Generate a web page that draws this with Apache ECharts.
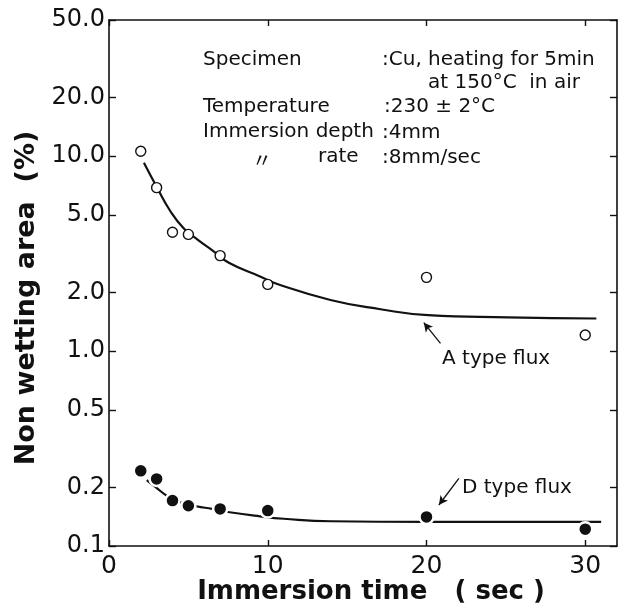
<!DOCTYPE html>
<html>
<head>
<meta charset="utf-8">
<script src="https://cdn.jsdelivr.net/npm/echarts@6/dist/echarts.min.js"></script>
<style>
    html, body { margin: 0; padding: 0; background: #fff; }
    #chart { width: 627px; height: 609px; }
</style>
</head>
<body>
<div id="chart"></div>
<script>
    // measured points
    const timeA = [2, 3, 4, 5, 7, 10, 20, 30];
    const areaA = [10.6, 6.9, 4.07, 3.97, 3.09, 2.2, 2.39, 1.21];
    const timeD = [2, 3, 4, 5, 7, 10, 20, 30];
    const areaD = [0.243, 0.221, 0.171, 0.161, 0.155, 0.152, 0.141, 0.122];

    // hand drawn curves
    const curveTimeA = [2.2, 3.0, 3.85, 4.7, 5.6, 6.55, 7.55, 9.55, 10.6, 13.95, 17.1, 20.1, 25.1, 30.7];
    const curveAreaA = [9.26, 6.97, 5.25, 4.27, 3.72, 3.27, 2.84, 2.41, 2.21, 1.83, 1.64, 1.53, 1.49, 1.47];
    const curveTimeD = [2.38, 2.9, 3.74, 4.5, 5.5, 6.5, 7.6, 9.5, 11, 14, 20, 31];
    const curveAreaD = [0.218, 0.2015, 0.179, 0.168, 0.160, 0.155, 0.149, 0.142, 0.138, 0.134, 0.133, 0.133];

    const xTicks = [0, 10, 20, 30];
    const yTicks = [0.1, 0.2, 0.5, 1, 2, 5, 10, 20, 50];

    const FONT = "'DejaVu Sans', sans-serif";

    function pairs(xs, ys) {
        return xs.map((x, i) => [x, ys[i]]);
    }

    function text(str, x, y, font, extra) {
        return Object.assign({
            type: "text",
            x: x,
            y: y,
            style: {
                text: str,
                font: font || "20px " + FONT,
                fill: "#111",
                textAlign: "left",
                textVerticalAlign: "middle"
            }
        }, extra || {});
    }

    const axisLine = { show: true, onZero: false, lineStyle: { color: "#111", width: 1.6 } };
    const tickStyle = { color: "#111", width: 1.4 };

    const chart = echarts.init(document.getElementById("chart"));

    const option = {
        animation: false,
        backgroundColor: "#fff",
        grid: {
            left: 109, right: 10, top: 20, bottom: 63,
            containLabel: false, outerBoundsMode: "none"
        },
        xAxis: [{
            type: "value", min: 0, max: 32, interval: 10,
            axisLine: axisLine,
            axisTick: { show: true, inside: true, length: 6, customValues: xTicks, lineStyle: tickStyle },
            axisLabel: { customValues: xTicks, margin: 8, color: "#111",
                fontFamily: FONT, fontSize: 25 },
            splitLine: { show: false }
        }, {
            type: "value", position: "top", min: 0, max: 32, interval: 10,
            axisLine: axisLine,
            axisTick: { show: true, inside: true, length: 6, customValues: xTicks, lineStyle: tickStyle },
            axisLabel: { show: false },
            splitLine: { show: false }
        }],
        yAxis: [{
            type: "log", logBase: 10, min: 0.1, max: 50,
            axisLine: axisLine,
            axisTick: { show: true, inside: true, length: 7, customValues: yTicks, lineStyle: tickStyle },
            axisLabel: { customValues: yTicks, margin: 4, color: "#111",
                fontFamily: FONT, fontSize: 24,
                formatter: (v) => Number(v).toFixed(1) },
            minorTick: { show: false },
            splitLine: { show: false }
        }, {
            type: "log", logBase: 10, min: 0.1, max: 50, position: "right",
            axisLine: axisLine,
            axisTick: { show: true, inside: true, length: 7, customValues: yTicks, lineStyle: tickStyle },
            axisLabel: { show: false },
            minorTick: { show: false },
            splitLine: { show: false }
        }],
        series: [{
            name: "A curve",
            type: "line",
            smooth: 0.5,
            showSymbol: false,
            data: pairs(curveTimeA, curveAreaA),
            lineStyle: { color: "#111", width: 2.2 },
            markLine: {
                silent: true,
                symbol: ["none", "arrow"],
                symbolSize: [7, 9],
                label: { show: false },
                lineStyle: { color: "#111", width: 1.3, type: "solid" },
                data: [[{ coord: [20.88, 1.096] }, { coord: [19.83, 1.399] }]]
            },
            z: 2
        }, {
            name: "D curve",
            type: "line",
            smooth: 0.5,
            showSymbol: false,
            data: pairs(curveTimeD, curveAreaD),
            lineStyle: { color: "#111", width: 2.2 },
            markLine: {
                silent: true,
                symbol: ["none", "arrow"],
                symbolSize: [7, 9],
                label: { show: false },
                lineStyle: { color: "#111", width: 1.3, type: "solid" },
                data: [[{ coord: [22.04, 0.2225] }, { coord: [20.78, 0.1623] }]]
            },
            z: 2
        }, {
            name: "A type flux",
            type: "scatter",
            symbol: "circle",
            symbolSize: 10,
            data: pairs(timeA, areaA),
            itemStyle: { color: "#fff", borderColor: "#111", borderWidth: 1.4, opacity: 1 },
            z: 3
        }, {
            name: "D type flux",
            type: "scatter",
            symbol: "circle",
            symbolSize: 14,
            data: pairs(timeD, areaD),
            itemStyle: { color: "#111", borderColor: "#fff", borderWidth: 2.5, opacity: 1 },
            z: 3
        }],
        graphic: [
            text("Non wetting area  (%)", 27, 298, null, { rotation: Math.PI / 2,
                style: { text: "Non wetting area  (%)", font: "bold 27px " + FONT, fill: "#111",
                    textAlign: "center", textVerticalAlign: "middle" } }),
            text("Immersion time   ( sec )", 371, 592, null, {
                style: { text: "Immersion time   ( sec )", font: "bold 26px " + FONT, fill: "#111",
                    textAlign: "center", textVerticalAlign: "middle" } }),
            text("Specimen", 203, 60),
            text(":Cu, heating for 5min", 382, 60),
            text("at 150°C  in air", 428, 83),
            text("Temperature", 203, 107),
            text(":230 ± 2°C", 384, 107),
            text("Immersion depth", 203, 132),
            text(":4mm", 382, 133),
            text("〃", 252, 160, "20px 'Noto Sans CJK JP', sans-serif"),
            text("rate", 318, 157),
            text(":8mm/sec", 382, 158),
            text("A type flux", 442, 359),
            text("D type flux", 462, 488)
        ]
    };

    chart.setOption(option);
</script>
</body>
</html>
